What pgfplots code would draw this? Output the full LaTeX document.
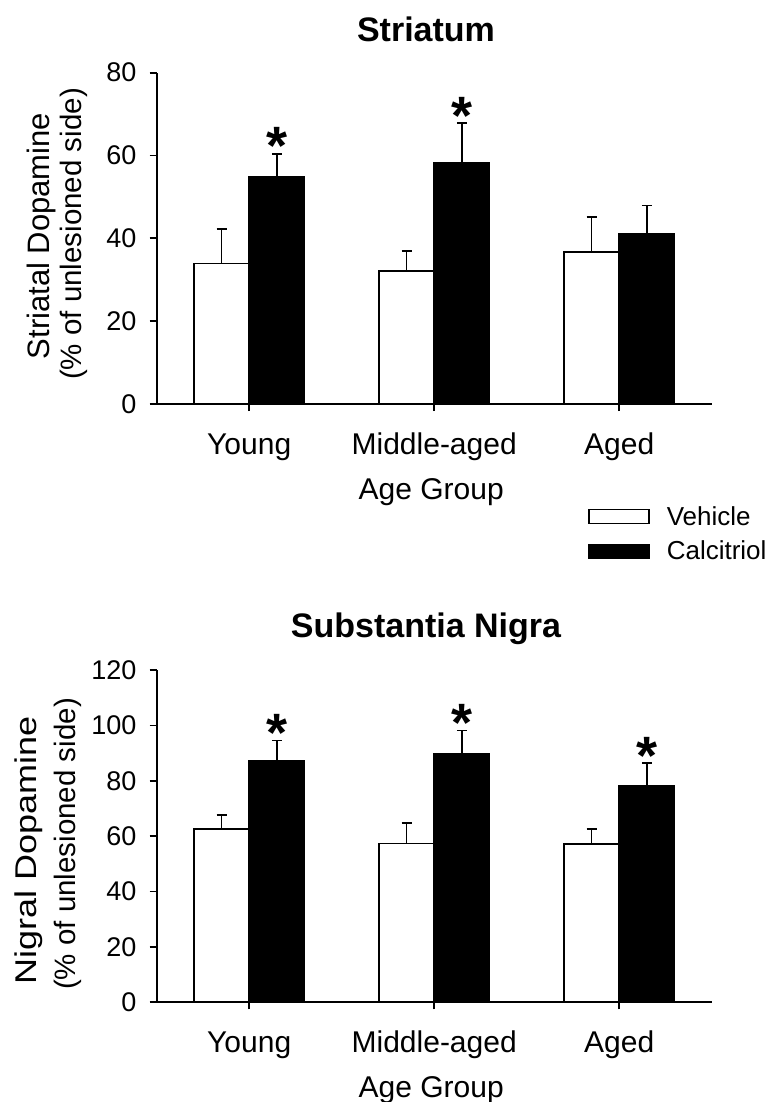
\documentclass[border=0pt]{standalone}
\usepackage{fontspec}
\setmainfont{Liberation Sans}
\usepackage{pgfplots}
\pgfplotsset{compat=1.18}
\pgfplotsset{
  panel/.style={
    scale only axis, width=555pt,
    xmin=-0.5, xmax=2.5, ymin=0,
    axis lines=left, axis line style={-, line width=1.7pt},
    ybar=0pt, bar width=55.3pt,
    xtick={0,1,2}, xticklabels={Young,Middle-aged,Aged},
    tick align=outside, major tick length=7pt,
    tick style={line width=1.7pt, black},
    x tick label style={font=\fontsize{30}{30}\selectfont, anchor=base, inner sep=0pt, yshift=-43pt},
    y tick label style={font=\fontsize{27}{27}\selectfont, anchor=east, inner sep=0pt, xshift=-13pt},
    /pgf/number format/assume math mode=true,
    xlabel={Age Group},
    xlabel style={font=\fontsize{30}{30}\selectfont, at={(axis description cs:0.5,0)}, anchor=base, inner sep=0pt, yshift=-95pt, xshift=-3pt},
    clip=false,
    every node near coord/.append style={font=\fontsize{54}{54}\selectfont\bfseries, anchor=base, inner sep=0pt, yshift=-11pt},
  },
  veh/.style={fill=white, draw=black, line width=1.7pt, bar shift=-27.65pt,
    /pgfplots/error bars/y dir=plus, /pgfplots/error bars/y explicit,
    /pgfplots/error bars/error bar style={line width=1.7pt, black},
    /pgfplots/error bars/error mark options={rotate=90, mark size=5pt, line width=1.7pt, black}},
  cal/.style={fill=black, draw=black, line width=1.7pt, bar shift=27.65pt,
    /pgfplots/error bars/y dir=plus, /pgfplots/error bars/y explicit,
    /pgfplots/error bars/error bar style={line width=1.7pt, black},
    /pgfplots/error bars/error mark options={rotate=90, mark size=5pt, line width=1.7pt, black}},
  star/.style={draw=none, fill=none, bar shift=27.65pt, forget plot, nodes near coords={*}},
}
\begin{document}
\begin{tikzpicture}
\useasboundingbox (-156.7pt,-698pt) rectangle (612.3pt,404pt);
% ---------- Striatum ----------
\begin{axis}[panel, at={(0pt,0pt)}, anchor=south west, height=331.3pt,
  ymax=80, ytick={0,20,40,60,80},
  legend style={at={(axis description cs:0.7776,-0.3094)}, anchor=north west,
    draw=none, fill=none, inner sep=0pt, outer sep=0pt, row sep=14.3pt, column sep=17pt,
    font=\fontsize{26}{26}\selectfont, nodes={inner sep=0pt}},
  legend cell align=left]
\addplot[veh, /pgfplots/legend image code/.code={\draw[fill=white, draw=black, line width=1.5pt] (0pt,-7pt) rectangle (60pt,7pt);}]
  coordinates {(0,33.9) +- (0,8.3) (1,32.2) +- (0,4.8) (2,36.7) +- (0,8.4)};
\addlegendentry{Vehicle}
\addplot[cal, /pgfplots/legend image code/.code={\draw[fill=black, draw=black, line width=1.5pt] (0pt,-7pt) rectangle (60pt,7pt);}]
  coordinates {(0,54.9) +- (0,5.5) (1,58.3) +- (0,9.5) (2,41.1) +- (0,6.8)};
\addlegendentry{Calcitriol}
\addplot[star] coordinates {(0,60.4) (1,67.8)};
\end{axis}
% ---------- Substantia Nigra ----------
\begin{axis}[panel, at={(0pt,-598.3pt)}, anchor=south west, height=332.3pt,
  ymax=120, ytick={0,20,40,60,80,100,120}]
\addplot[veh] coordinates {(0,62.7) +- (0,4.9) (1,57.4) +- (0,7.4) (2,57.1) +- (0,5.4)};
\addplot[cal] coordinates {(0,87.3) +- (0,7.2) (1,89.8) +- (0,8.4) (2,78.2) +- (0,8.1)};
\addplot[star] coordinates {(0,94.5) (1,98.2) (2,86.3)};
\end{axis}
% titles
\node[font=\fontsize{34}{34}\selectfont\bfseries] at (269.3pt,374.8pt) {Striatum};
\node[font=\fontsize{34}{34}\selectfont\bfseries] at (269.3pt,-224.4pt) {Substantia Nigra};
% y labels
\node[rotate=90, anchor=base, font=\fontsize{31}{31}\selectfont] at (-106.7pt,168pt) {Striatal Dopamine};
\node[rotate=90, anchor=base, font=\fontsize{29.5}{29.5}\selectfont] at (-75pt,170pt) {(\% of unlesioned side)};
\node[rotate=90, anchor=base, font=\fontsize{30}{30}\selectfont] at (-120pt,-446.5pt) {\scalebox{1.2}[1]{Nigral Dopamine}};
\node[rotate=90, anchor=base, font=\fontsize{29.5}{29.5}\selectfont] at (-80.7pt,-440pt) {(\% of unlesioned side)};
\end{tikzpicture}
\end{document}
